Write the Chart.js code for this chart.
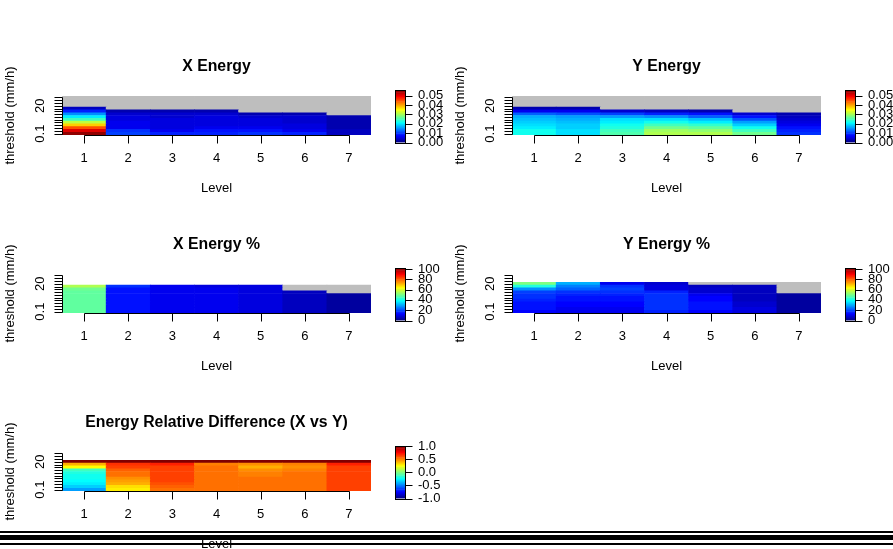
<!DOCTYPE html>
<html>
<head>
<meta charset="utf-8">
<script src="https://cdn.jsdelivr.net/npm/chart.js@4/dist/chart.umd.min.js"></script>
<style>
html,body{margin:0;padding:0;background:#fff;}
body{position:relative;width:893px;height:549px;overflow:hidden;}
canvas{position:absolute;}
.rule{position:absolute;left:0;width:893px;background:#000;z-index:10;}
</style>
</head>
<body>
<div class="rule" style="top:531px;height:2px"></div>
<div class="rule" style="top:535px;height:5px"></div>
<div class="rule" style="top:543px;height:2px"></div>
<script>
// ---------------- data ----------------
const levels = ['1', '2', '3', '4', '5', '6', '7'];
// threshold rows, bottom -> top
const thresholds = ['0.1', '0.2', '0.5', '1', '2', '3', '5', '7', '10', '15', '20', '30', '50', '100'];
const shownThresholdLabels = ['0.1', '20'];

const energyRange = [0, 0.056];
const energyTicks = [0, 0.01, 0.02, 0.03, 0.04, 0.05];
const energyTickLabels = ['0.00', '0.01', '0.02', '0.03', '0.04', '0.05'];
const pctRange = [0, 102];
const pctTicks = [0, 20, 40, 60, 80, 100];
const pctTickLabels = ['0', '20', '40', '60', '80', '100'];
const diffRange = [-1, 1];
const diffTicks = [-1, -0.5, 0, 0.5, 1];
const diffTickLabels = ['-1.0', '-0.5', '0.0', '0.5', '1.0'];

// each inner array = one level, values for thresholds bottom -> top (0 = zero/grey, null = no data)
const xEnergy = [
  [0.055, 0.050, 0.044, 0.037, 0.031, 0.024, 0.020, 0.014, 0.008, 0.003, 0, 0, 0, 0],
  [0.010, 0.009, 0.006, 0.0055, 0.0055, 0.005, 0.005, 0.004, 0.0022, 0, 0, 0, 0, 0],
  [0.008, 0.006, 0.005, 0.005, 0.0045, 0.0045, 0.004, 0.004, 0.0022, 0, 0, 0, 0, 0],
  [0.008, 0.007, 0.006, 0.005, 0.005, 0.005, 0.0045, 0.004, 0.0022, 0, 0, 0, 0, 0],
  [0.009, 0.007, 0.0055, 0.005, 0.005, 0.0045, 0.004, 0.0022, 0, 0, 0, 0, 0, 0],
  [0.008, 0.006, 0.005, 0.0045, 0.004, 0.004, 0.0035, 0.0022, 0, 0, 0, 0, 0, 0],
  [0.003, 0.0028, 0.0026, 0.0024, 0.0022, 0.002, 0.0018, 0, 0, 0, 0, 0, 0, 0]
];
const yEnergy = [
  [0.021, 0.021, 0.020, 0.019, 0.018, 0.017, 0.016, 0.012, 0.006, 0.002, 0, 0, 0, 0],
  [0.019, 0.019, 0.018, 0.018, 0.017, 0.016, 0.015, 0.011, 0.006, 0.002, 0, 0, 0, 0],
  [0.025, 0.024, 0.022, 0.021, 0.020, 0.019, 0.015, 0.010, 0.004, 0, 0, 0, 0, 0],
  [0.030, 0.029, 0.027, 0.024, 0.021, 0.019, 0.014, 0.008, 0.003, 0, 0, 0, 0, 0],
  [0.030, 0.028, 0.026, 0.023, 0.020, 0.017, 0.012, 0.007, 0.002, 0, 0, 0, 0, 0],
  [0.027, 0.024, 0.021, 0.018, 0.015, 0.011, 0.007, 0.004, 0, 0, 0, 0, 0, 0],
  [0.009, 0.008, 0.007, 0.006, 0.005, 0.004, 0.003, 0.002, 0, 0, 0, 0, 0, 0]
];
const xEnergyPct = [
  [47, 47, 47, 47, 47, 47, 47, 47, 48, 55, null, null, null, null],
  [13, 13, 13, 13, 13, 13, 13, 13, 13, 16, null, null, null, null],
  [10, 10, 10.5, 10.5, 11, 11, 11, 11, 11, 11, null, null, null, null],
  [10, 10, 10, 10, 10, 10, 10, 10, 10, 9, null, null, null, null],
  [9, 9, 9, 9, 9, 9, 9, 9, 9, 8, null, null, null, null],
  [6, 6, 6, 6, 6, 6, 6, 6, 0, 0, null, null, null, null],
  [2, 2, 2, 2, 2, 2, 2, 0, 0, 0, null, null, null, null]
];
const yEnergyPct = [
  [12, 13, 13, 14, 15, 16, 17, 19, 27, 40, 50, null, null, null],
  [11, 11, 12, 12, 13, 14, 15, 17, 22, 24, 30, null, null, null],
  [11, 11, 12, 12, 13, 14, 15, 17, 18, 16, 11, null, null, null],
  [15, 16, 16, 17, 17, 17, 16, 15, 9, 8, 7, null, null, null],
  [12, 13, 13, 13, 12, 12, 10, 7, 7, 6, 0, null, null, null],
  [8, 8, 7, 7, 6, 6, 6, 5, 5, 5, 0, null, null, null],
  [3, 3, 3, 3, 3, 3, 3, 0, 0, 0, 0, null, null, null]
];
const relDiff = [
  [-0.45, -0.35, -0.3, -0.27, -0.25, -0.23, -0.2, -0.15, 0.22, 0.4, 1.0, null, null, null],
  [0.25, 0.3, 0.38, 0.42, 0.46, 0.5, 0.52, 0.55, 0.6, 0.65, 1.0, null, null, null],
  [0.5, 0.55, 0.58, 0.6, 0.6, 0.6, 0.6, 0.62, 0.62, 0.66, 1.0, null, null, null],
  [0.53, 0.53, 0.53, 0.53, 0.53, 0.53, 0.53, 0.53, 0.5, 0.48, 1.0, null, null, null],
  [0.5, 0.5, 0.5, 0.5, 0.5, 0.49, 0.48, 0.46, 0.4, 0.46, 1.0, null, null, null],
  [0.52, 0.52, 0.52, 0.52, 0.52, 0.52, 0.5, 0.48, 0.44, 0.48, 1.0, null, null, null],
  [0.6, 0.6, 0.6, 0.6, 0.6, 0.6, 0.6, 0.6, 0.62, 0.66, 1.0, null, null, null]
];

// ---------------- styling / layout ----------------
const FONT = '"Liberation Sans", Arial, Helvetica, sans-serif';
Chart.defaults.font.family = FONT;
const GREY = '#BEBEBE';
const NCOL = 64;
const jetStops = [[0, [0, 0, 143]], [7, [0, 0, 255]], [23, [0, 255, 255]], [39, [255, 255, 0]], [55, [255, 0, 0]], [63, [128, 0, 0]]];
function jetIndex(i) {
  for (let k = 0; k < jetStops.length - 1; k++) {
    const [i0, c0] = jetStops[k], [i1, c1] = jetStops[k + 1];
    if (i >= i0 && i <= i1) {
      const t = (i - i0) / (i1 - i0);
      const c = c0.map((v, j) => Math.round(v + (c1[j] - v) * t));
      return `rgb(${c[0]},${c[1]},${c[2]})`;
    }
  }
  return 'rgb(128,0,0)';
}
function colorFor(v, range) {
  if (v === null || v === undefined) return 'rgba(0,0,0,0)';
  if (v === 0 && range[0] === 0) return GREY;
  const f = (v - range[0]) / (range[1] - range[0]);
  const idx = Math.max(0, Math.min(NCOL - 1, Math.floor(f * NCOL)));
  return jetIndex(idx);
}

const panels = [
  { title: 'X Energy', values: xEnergy, range: energyRange, ticks: energyTicks, labels: energyTickLabels, col: 0, row: 0 },
  { title: 'Y Energy', values: yEnergy, range: energyRange, ticks: energyTicks, labels: energyTickLabels, col: 1, row: 0 },
  { title: 'X Energy %', values: xEnergyPct, range: pctRange, ticks: pctTicks, labels: pctTickLabels, col: 0, row: 1 },
  { title: 'Y Energy %', values: yEnergyPct, range: pctRange, ticks: pctTicks, labels: pctTickLabels, col: 1, row: 1 },
  { title: 'Energy Relative Difference (X vs Y)', values: relDiff, range: diffRange, ticks: diffTicks, labels: diffTickLabels, col: 0, row: 2 }
];

const px = v => Math.round(v) + 0.5;
function rotText(ctx, text, x, y) {
  ctx.save(); ctx.translate(x, y); ctx.rotate(-Math.PI / 2);
  ctx.textAlign = 'center'; ctx.textBaseline = 'middle';
  ctx.fillText(text, 0, 0); ctx.restore();
}
function makeCanvas(left, top, w, h) {
  const c = document.createElement('canvas');
  c.width = w; c.height = h;
  c.style.left = left + 'px'; c.style.top = top + 'px';
  c.style.width = w + 'px'; c.style.height = h + 'px';
  document.body.appendChild(c);
  return c;
}

function axesPlugin(p) {
  return {
    id: 'rAxes',
    afterDraw(chart) {
      const ctx = chart.ctx, a = chart.chartArea, xs = chart.scales.x, ys = chart.scales.y;
      ctx.save();
      ctx.strokeStyle = '#000'; ctx.fillStyle = '#000'; ctx.lineWidth = 1;
      ctx.font = 'bold 15.8px ' + FONT;
      ctx.textAlign = 'center'; ctx.textBaseline = 'middle';
      ctx.fillText(p.title, (a.left + a.right) / 2, a.top - 29.3);
      ctx.font = '13px ' + FONT;
      // x axis
      const xt = levels.map((l, i) => xs.getPixelForValue(i));
      const yb = px(a.bottom);
      ctx.beginPath();
      ctx.moveTo(px(xt[0]), yb); ctx.lineTo(px(xt[xt.length - 1]), yb);
      xt.forEach(x => { ctx.moveTo(px(x), yb); ctx.lineTo(px(x), yb + 8); });
      ctx.stroke();
      levels.forEach((l, i) => ctx.fillText(l, xt[i], a.bottom + 23.3));
      ctx.fillText('Level', (a.left + a.right) / 2, a.bottom + 53.3);
      // y axis
      const yt = thresholds.map((t, i) => ys.getPixelForValue(i + 0.5));
      const xl = px(a.left);
      ctx.beginPath();
      ctx.moveTo(xl, px(yt[0])); ctx.lineTo(xl, px(yt[yt.length - 1]));
      yt.forEach(y => { ctx.moveTo(xl, px(y)); ctx.lineTo(xl - 8, px(y)); });
      ctx.stroke();
      thresholds.forEach((t, i) => { if (shownThresholdLabels.includes(t)) rotText(ctx, t, a.left - 22, yt[i]); });
      rotText(ctx, 'threshold (mm/h)', a.left - 52, (a.top + a.bottom) / 2);
      ctx.restore();
    }
  };
}

function cbarPlugin(p) {
  return {
    id: 'cbar',
    afterDraw(chart) {
      const ctx = chart.ctx, a = chart.chartArea, ys = chart.scales.y;
      ctx.save();
      ctx.strokeStyle = '#000'; ctx.fillStyle = '#000'; ctx.lineWidth = 1;
      ctx.strokeRect(px(a.left), px(a.top), Math.round(a.right - a.left), Math.round(a.bottom - a.top));
      const yt = p.ticks.map(v => ys.getPixelForValue(v));
      const xr = px(a.right);
      ctx.beginPath();
      ctx.moveTo(xr, px(yt[0])); ctx.lineTo(xr, px(yt[yt.length - 1]));
      yt.forEach(y => { ctx.moveTo(xr, px(y)); ctx.lineTo(xr + 7, px(y)); });
      ctx.stroke();
      ctx.font = '13px ' + FONT; ctx.textAlign = 'left'; ctx.textBaseline = 'middle';
      p.labels.forEach((l, i) => ctx.fillText(l, a.right + 13, yt[i]));
      ctx.restore();
    }
  };
}

panels.forEach(p => {
  const colX = p.col * 450, rowY = p.row * 178;
  // heatmap
  const hc = makeCanvas(colX, rowY + 40, 385, 160);
  const datasets = thresholds.map((t, r) => ({
    label: t,
    data: levels.map((l, c) => (p.values[c][r] === null ? null : [r, r + 1])),
    backgroundColor: levels.map((l, c) => colorFor(p.values[c][r], p.range)),
    borderWidth: 0,
    barPercentage: 1,
    categoryPercentage: 1,
    grouped: false
  }));
  new Chart(hc, {
    type: 'bar',
    data: { labels: levels, datasets },
    options: {
      animation: false, responsive: false, devicePixelRatio: 1,
      layout: { padding: { left: 62, right: 14, top: 56, bottom: 65 } },
      plugins: { legend: { display: false }, tooltip: { enabled: false } },
      scales: {
        x: { display: false, offset: true, grid: { display: false } },
        y: { display: false, min: 0, max: thresholds.length }
      }
    },
    plugins: [axesPlugin(p)]
  });
  // colour bar
  const cc = makeCanvas(colX + 380, rowY + 80, 70, 80);
  const span = p.range[1] - p.range[0];
  const cbSets = [];
  for (let k = 0; k < NCOL; k++) {
    cbSets.push({
      data: [[p.range[0] + span * k / NCOL, p.range[0] + span * (k + 1) / NCOL]],
      backgroundColor: jetIndex(k), borderWidth: 0, barPercentage: 1, categoryPercentage: 1, grouped: false
    });
  }
  cbSets.push({
    data: [[p.range[0], p.range[0] + span * 0.035]],
    backgroundColor: GREY, borderWidth: 0, barPercentage: 1, categoryPercentage: 1, grouped: false
  });
  new Chart(cc, {
    type: 'bar',
    data: { labels: ['scale'], datasets: cbSets },
    options: {
      animation: false, responsive: false, devicePixelRatio: 1,
      layout: { padding: { left: 15, right: 45, top: 10, bottom: 17.5 } },
      plugins: { legend: { display: false }, tooltip: { enabled: false } },
      scales: {
        x: { display: false, offset: true },
        y: { display: false, min: p.range[0], max: p.range[1] }
      }
    },
    plugins: [cbarPlugin(p)]
  });
});
</script>
</body>
</html>
